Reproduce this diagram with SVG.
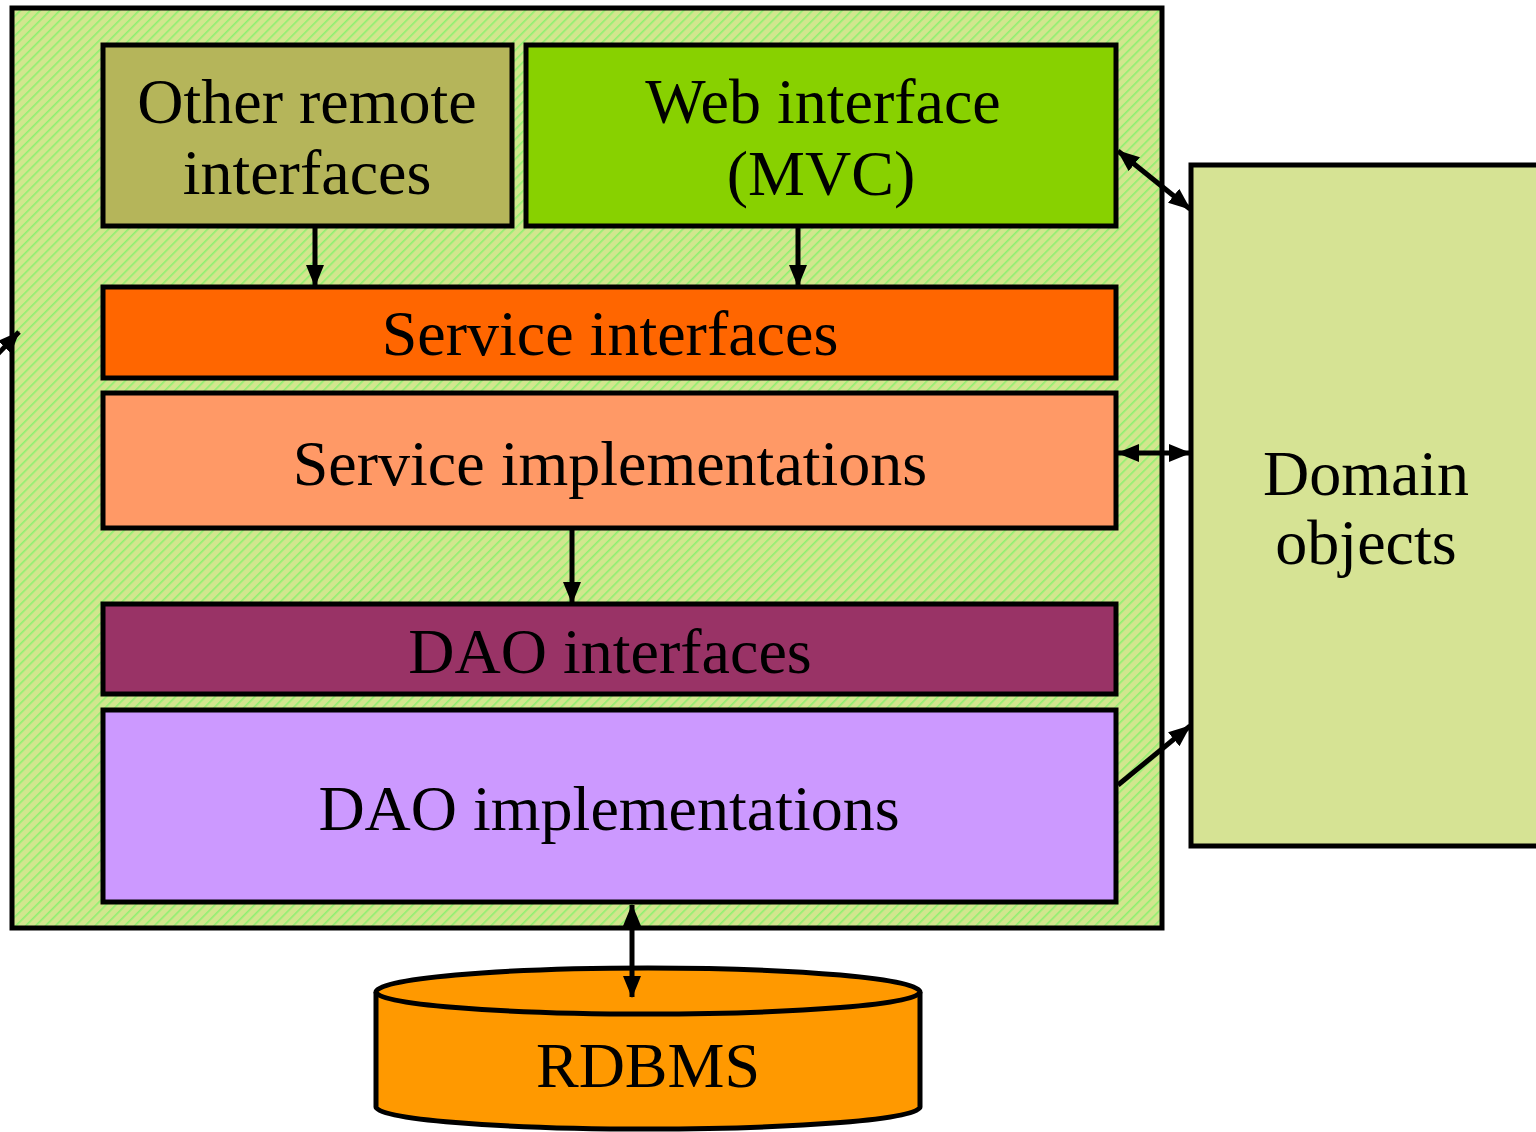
<svg xmlns="http://www.w3.org/2000/svg" width="1536" height="1132" viewBox="0 0 1536 1132">
<style>
.box{stroke:#000;stroke-width:5}
.t{font-family:"Liberation Serif","Times New Roman",serif;font-size:64px;fill:#000;text-anchor:middle}
.c{stroke:#000;stroke-width:5;fill:none}
</style>
<defs>
<pattern id="hatch" width="7" height="7" patternUnits="userSpaceOnUse" patternTransform="rotate(45)">
<rect width="7" height="7" fill="#d2e68e"/>
<rect width="1.6" height="7" fill="#8ef070"/>
</pattern>
<marker id="ah" viewBox="0 0 22 18" refX="21" refY="9" markerWidth="22" markerHeight="18" markerUnits="userSpaceOnUse" orient="auto-start-reverse">
<path d="M0,0 L22,9 L0,18 Z" fill="#000"/>
</marker>
</defs>
<g id="container"><rect x="12" y="8" width="1150" height="920" fill="url(#hatch)" class="box"/></g>
<g id="domain"><rect x="1191" y="165" width="360" height="681" fill="#d6e394" class="box"/>
<text class="t" x="1366" y="495">Domain</text><text class="t" x="1366" y="564">objects</text></g>
<g id="other"><rect x="103" y="45" width="409" height="181" fill="#b5b55a" class="box"/>
<text class="t" x="307" y="123">Other remote</text><text class="t" x="307" y="194">interfaces</text></g>
<g id="web"><rect x="526" y="45" width="590" height="181" fill="#88d100" class="box"/>
<text class="t" x="823" y="123">Web interface</text><text class="t" x="821" y="195">(MVC)</text></g>
<g id="svcif"><rect x="103" y="287" width="1013" height="91" fill="#ff6600" class="box"/>
<text class="t" x="610" y="355">Service interfaces</text></g>
<g id="svcimpl"><rect x="103" y="393" width="1013" height="135" fill="#ff9966" class="box"/>
<text class="t" x="610" y="485">Service implementations</text></g>
<g id="daoif"><rect x="103" y="604" width="1013" height="90" fill="#993366" class="box"/>
<text class="t" x="610" y="673">DAO interfaces</text></g>
<g id="daoimpl"><rect x="103" y="710" width="1013" height="192" fill="#cc99ff" class="box"/>
<text class="t" x="609" y="830">DAO implementations</text></g>
<g id="rdbms">
<path d="M376,992 L376,1107 A272,22 0 0 0 920,1107 L920,992 A272,24 0 0 0 376,992 Z" fill="#ff9900" class="box"/>
<path d="M376,992 A272,22 0 0 0 920,992" class="c"/>
<text class="t" x="648" y="1087">RDBMS</text></g>
<g id="connectors">
<line x1="315" y1="226" x2="315" y2="286" class="c" marker-end="url(#ah)"/>
<line x1="798" y1="226" x2="798" y2="286" class="c" marker-end="url(#ah)"/>
<line x1="572" y1="528" x2="572" y2="603" class="c" marker-end="url(#ah)"/>
<line x1="1118" y1="151" x2="1190" y2="209" class="c" marker-start="url(#ah)" marker-end="url(#ah)"/>
<line x1="1118" y1="453" x2="1190" y2="453" class="c" marker-start="url(#ah)" marker-end="url(#ah)"/>
<line x1="1118" y1="785" x2="1190" y2="726" class="c" marker-end="url(#ah)"/>
<line x1="632" y1="905" x2="632" y2="997" class="c" marker-start="url(#ah)" marker-end="url(#ah)"/>
<line x1="-6" y1="358" x2="19" y2="332" class="c" marker-end="url(#ah)"/>
</g>
</svg>
